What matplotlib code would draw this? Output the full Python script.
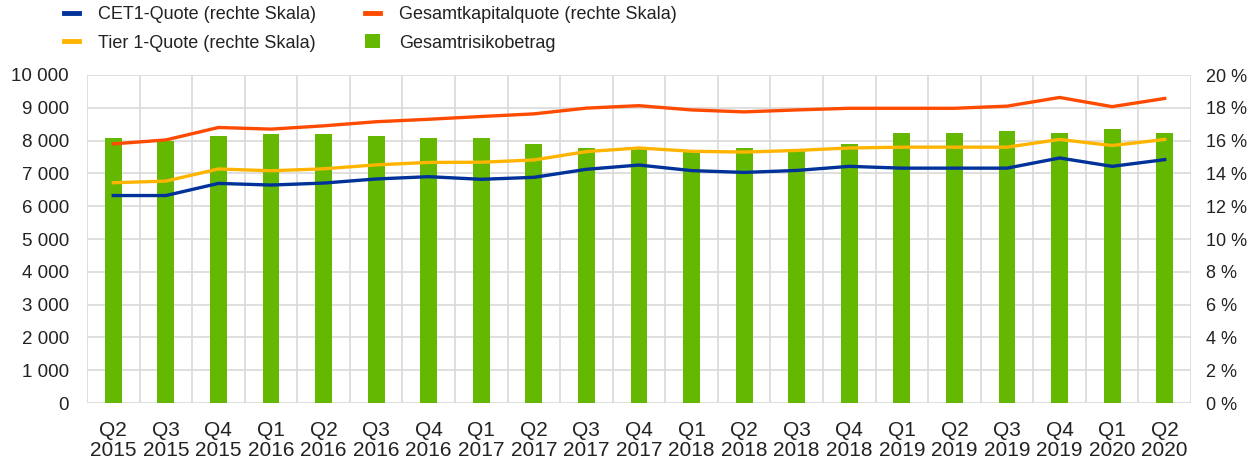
import matplotlib
matplotlib.use("Agg")
import matplotlib.pyplot as plt
from matplotlib.lines import Line2D
from matplotlib.patches import Patch
from matplotlib.ticker import FuncFormatter, MultipleLocator, FixedLocator
import numpy as np

plt.rcParams['font.family'] = ['Liberation Sans', 'DejaVu Sans']

quarters = ["Q2", "Q3", "Q4", "Q1", "Q2", "Q3", "Q4", "Q1", "Q2", "Q3", "Q4",
            "Q1", "Q2", "Q3", "Q4", "Q1", "Q2", "Q3", "Q4", "Q1", "Q2"]
years = ["2015", "2015", "2015", "2016", "2016", "2016", "2016", "2017", "2017", "2017", "2017",
         "2018", "2018", "2018", "2018", "2019", "2019", "2019", "2019", "2020", "2020"]

gesamtrisikobetrag = [8080, 8000, 8150, 8200, 8200, 8140, 8070, 8070, 7900, 7765, 7730,
                      7650, 7780, 7695, 7910, 8230, 8230, 8290, 8230, 8340, 8230]
gesamtkapitalquote = [15.8, 16.04, 16.8, 16.7, 16.9, 17.15, 17.3, 17.47, 17.63, 17.98, 18.13,
                      17.87, 17.75, 17.87, 17.97, 17.97, 17.97, 18.1, 18.63, 18.07, 18.57]
tier1_quote = [13.43, 13.53, 14.27, 14.16, 14.28, 14.52, 14.67, 14.68, 14.82, 15.33, 15.55,
               15.35, 15.3, 15.4, 15.55, 15.6, 15.6, 15.6, 16.07, 15.7, 16.07]
cet1_quote = [12.65, 12.65, 13.39, 13.29, 13.41, 13.66, 13.8, 13.64, 13.76, 14.25, 14.51,
              14.17, 14.06, 14.18, 14.43, 14.32, 14.32, 14.32, 14.94, 14.43, 14.84]

labels = [f"{q}\n{y}" for q, y in zip(quarters, years)]

C_BLUE = "#003299"
C_YELLOW = "#ffb400"
C_ORANGE = "#ff4b00"
C_GREEN = "#65b800"
C_GRID = "#d9d9d9"
C_TEXT = "#222222"

fig = plt.figure(figsize=(12.6, 4.69), dpi=100)
ax = fig.add_axes([87/1260, 1-403/469, (1191-87)/1260, (403-75)/469])
x = np.arange(len(labels))

ax.bar(x, gesamtrisikobetrag, width=0.32, color=C_GREEN, zorder=2)
ax.set_xlim(-0.5, len(labels) - 0.5)
ax.set_ylim(0, 10000)
ax.yaxis.set_major_locator(MultipleLocator(1000))
ax.yaxis.set_major_formatter(FuncFormatter(lambda v, p: f"{int(v):,}".replace(",", " ")))
ax.set_xticks(x)
ax.set_xticklabels(labels, fontsize=15, linespacing=1.08, color=C_TEXT)
ax.xaxis.set_minor_locator(FixedLocator(np.arange(-0.5, len(labels), 1.0)))
ax.grid(axis='y', which='major', color=C_GRID, lw=1.2, zorder=0)
ax.grid(axis='x', which='minor', color=C_GRID, lw=1.2, zorder=0)
ax.tick_params(axis='x', which='both', length=0, pad=13)
ax.tick_params(axis='y', length=0, pad=13, labelsize=13.5, labelcolor=C_TEXT)
for s in ax.spines.values():
    s.set_visible(False)
ax.set_axisbelow(True)

ax2 = ax.twinx()
ax2.plot(x, cet1_quote, color=C_BLUE, lw=2.4, zorder=3)
ax2.plot(x, tier1_quote, color=C_YELLOW, lw=2.4, zorder=3)
ax2.plot(x, gesamtkapitalquote, color=C_ORANGE, lw=2.4, zorder=3)
ax2.set_ylim(0, 20)
ax2.yaxis.set_major_locator(MultipleLocator(2))
ax2.yaxis.set_major_formatter(FuncFormatter(lambda v, p: f"{int(v)} %"))
ax2.tick_params(axis='y', length=0, pad=11, labelsize=13, labelcolor=C_TEXT)
for s in ax2.spines.values():
    s.set_visible(False)

handles = [
    Line2D([], [], color=C_BLUE, lw=3.5),
    Line2D([], [], color=C_YELLOW, lw=3.5),
    Line2D([], [], color=C_ORANGE, lw=3.5),
    Patch(facecolor=C_GREEN),
]
names = ["CET1-Quote (rechte Skala)", "Tier 1-Quote (rechte Skala)",
         "Gesamtkapitalquote (rechte Skala)", "Gesamtrisikobetrag"]
fig.legend(handles, names, loc='upper left', bbox_to_anchor=(64/1260, 1-6/469),
           ncol=2, frameon=False, borderpad=0, borderaxespad=0,
           handlelength=0.85, handleheight=0.8, handletextpad=1.05,
           columnspacing=2.7, labelspacing=0.62, fontsize=13, labelcolor=C_TEXT)

fig.savefig("out.png", dpi=100)
